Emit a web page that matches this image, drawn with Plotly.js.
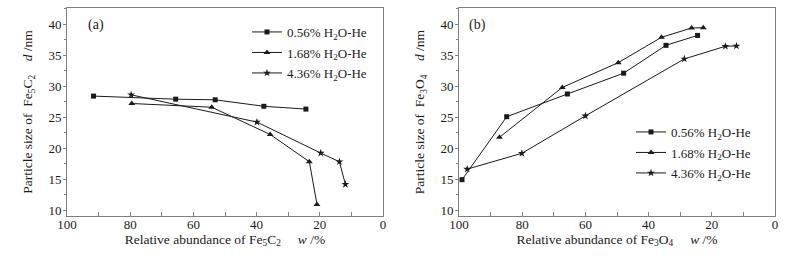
<!DOCTYPE html>
<html>
<head>
<meta charset="utf-8">
<script src="https://cdn.plot.ly/plotly-3.0.1.min.js"></script>
<style>html,body{margin:0;padding:0;background:#fff}#chart{width:789px;height:256px}</style>
</head>
<body>
<div id="chart"></div>
<script>
// Panel (a): Fe5C2
const seriesNames = ["0.56% H<sub>2</sub>O-He", "1.68% H<sub>2</sub>O-He", "4.36% H<sub>2</sub>O-He"];
const aX1 = [91.6, 65.6, 53.1, 37.7, 24.4];
const aY1 = [28.4, 27.9, 27.8, 26.75, 26.3];
const aX2 = [79.5, 54.2, 35.7, 23.3, 20.9];
const aY2 = [27.2, 26.6, 22.2, 17.8, 10.9];
const aX3 = [79.7, 39.9, 19.7, 13.8, 11.9];
const aY3 = [28.6, 24.2, 19.2, 17.8, 14.15];
// Panel (b): Fe3O4
const bX1 = [99.05, 84.9, 65.7, 47.9, 34.5, 24.5];
const bY1 = [14.9, 25.07, 28.74, 32.1, 36.6, 38.2];
const bX2 = [87.2, 67.3, 49.6, 35.9, 26.4, 22.7];
const bY2 = [21.74, 29.8, 33.8, 37.9, 39.4, 39.45];
const bX3 = [97.4, 80.1, 60.0, 28.7, 15.7, 12.2];
const bY3 = [16.6, 19.16, 25.2, 34.4, 36.45, 36.5];
const symbols = ["square", "triangle-up", "star"];
const xTicks = [100, 80, 60, 40, 20, 0];
const yTicks = [10, 15, 20, 25, 30, 35, 40];

const W = 789, H = 256;
const FONT = "'Liberation Serif', 'Times New Roman', serif";
const ink = "#1a1a1a";

function tr(x, y, i, xa, ya, leg, lineCol) {
  return {
    x: x, y: y, type: "scatter", mode: "lines+markers",
    name: seriesNames[i], xaxis: xa, yaxis: ya, legend: leg,
    line: {color: lineCol || ink, width: 1},
    marker: {symbol: symbols[i], size: i === 0 ? 5 : 6, color: ink, line: {width: 0}}
  };
}

const data = [
  tr(aX1, aY1, 0, "x", "y", "legend"),
  tr(aX2, aY2, 1, "x", "y", "legend2"),
  tr(aX3, aY3, 2, "x", "y", "legend3"),
  tr(bX1, bY1, 0, "x2", "y2", "legend4"),
  tr(bX2, bY2, 1, "x2", "y2", "legend5"),
  tr(bX3, bY3, 2, "x2", "y2", "legend6")
];

const frame = "#808080";
function xaxis(dom, title, anchor) {
  return {
    domain: dom, anchor: anchor, range: [100, 0], tickvals: xTicks,
    ticks: "inside", ticklen: 4, tickcolor: frame,
    minor: {dtick: 10, ticks: "inside", ticklen: 4, tickcolor: frame},
    showline: true, mirror: true, linecolor: frame, linewidth: 1,
    showgrid: false, zeroline: false, ticklabelstandoff: -4,
    tickfont: {family: FONT, size: 13, color: ink},
    title: {text: title, font: {family: FONT, size: 13.5, color: ink}, standoff: 0}
  };
}
function yaxis(title, anchor) {
  return {
    domain: [40 / H, 1 - 8 / H], anchor: anchor, range: [9.03, 42.63], tickvals: yTicks,
    ticks: "outside", ticklen: 3, tickcolor: frame,
    minor: {dtick: 2.5, tick0: 10, ticks: "outside", ticklen: 2, tickcolor: frame},
    showline: true, mirror: true, linecolor: frame, linewidth: 1,
    showgrid: false, zeroline: false, ticklabelstandoff: -1,
    tickfont: {family: FONT, size: 13, color: ink},
    title: {text: title, font: {family: FONT, size: 13.5, color: ink}, standoff: 12}
  };
}
function legendAt(px, py) {
  return {x: px / W, y: 1 - py / H, xanchor: "left", yanchor: "middle", bgcolor: "rgba(0,0,0,0)",
          font: {family: FONT, size: 13, color: ink}, itemwidth: 30, borderwidth: 0};
}
const sp = "\u00A0";
const layout = {
  width: W, height: H,
  margin: {l: 0, r: 0, t: 0, b: 0},
  paper_bgcolor: "#fff", plot_bgcolor: "#fff",
  font: {family: FONT, size: 13, color: ink},
  xaxis: xaxis([67 / W, 383 / W], "Relative abundance of Fe<sub>5</sub>C<sub>2</sub>" + sp.repeat(5) + "<i>w</i> /%", "y"),
  yaxis: yaxis("Particle size of" + sp.repeat(2) + "Fe<sub>5</sub>C<sub>2</sub>" + sp.repeat(4) + "<i>d</i> /nm", "x"),
  xaxis2: xaxis([459 / W, 775 / W], "Relative abundance of Fe<sub>3</sub>O<sub>4</sub>" + sp.repeat(5) + "<i>w</i> /%", "y2"),
  yaxis2: yaxis("Particle size of" + sp.repeat(2) + "Fe<sub>3</sub>O<sub>4</sub>" + sp.repeat(4) + "<i>d</i> /nm", "x2"),
  legend: legendAt(247, 32),
  legend2: legendAt(247, 52.5),
  legend3: legendAt(247, 73),
  legend4: legendAt(631, 132),
  legend5: legendAt(631, 152.5),
  legend6: legendAt(631, 173),
  annotations: [
    {text: "(a)", xref: "paper", yref: "paper", x: 86 / W, y: 1 - 25 / H, xanchor: "left", yanchor: "middle", showarrow: false, font: {family: FONT, size: 14, color: ink}},
    {text: "(b)", xref: "paper", yref: "paper", x: 467 / W, y: 1 - 25 / H, xanchor: "left", yanchor: "middle", showarrow: false, font: {family: FONT, size: 14, color: ink}}
  ],
  showlegend: true
};
Plotly.newPlot("chart", data, layout, {displayModeBar: false, staticPlot: true});
</script>
</body>
</html>
